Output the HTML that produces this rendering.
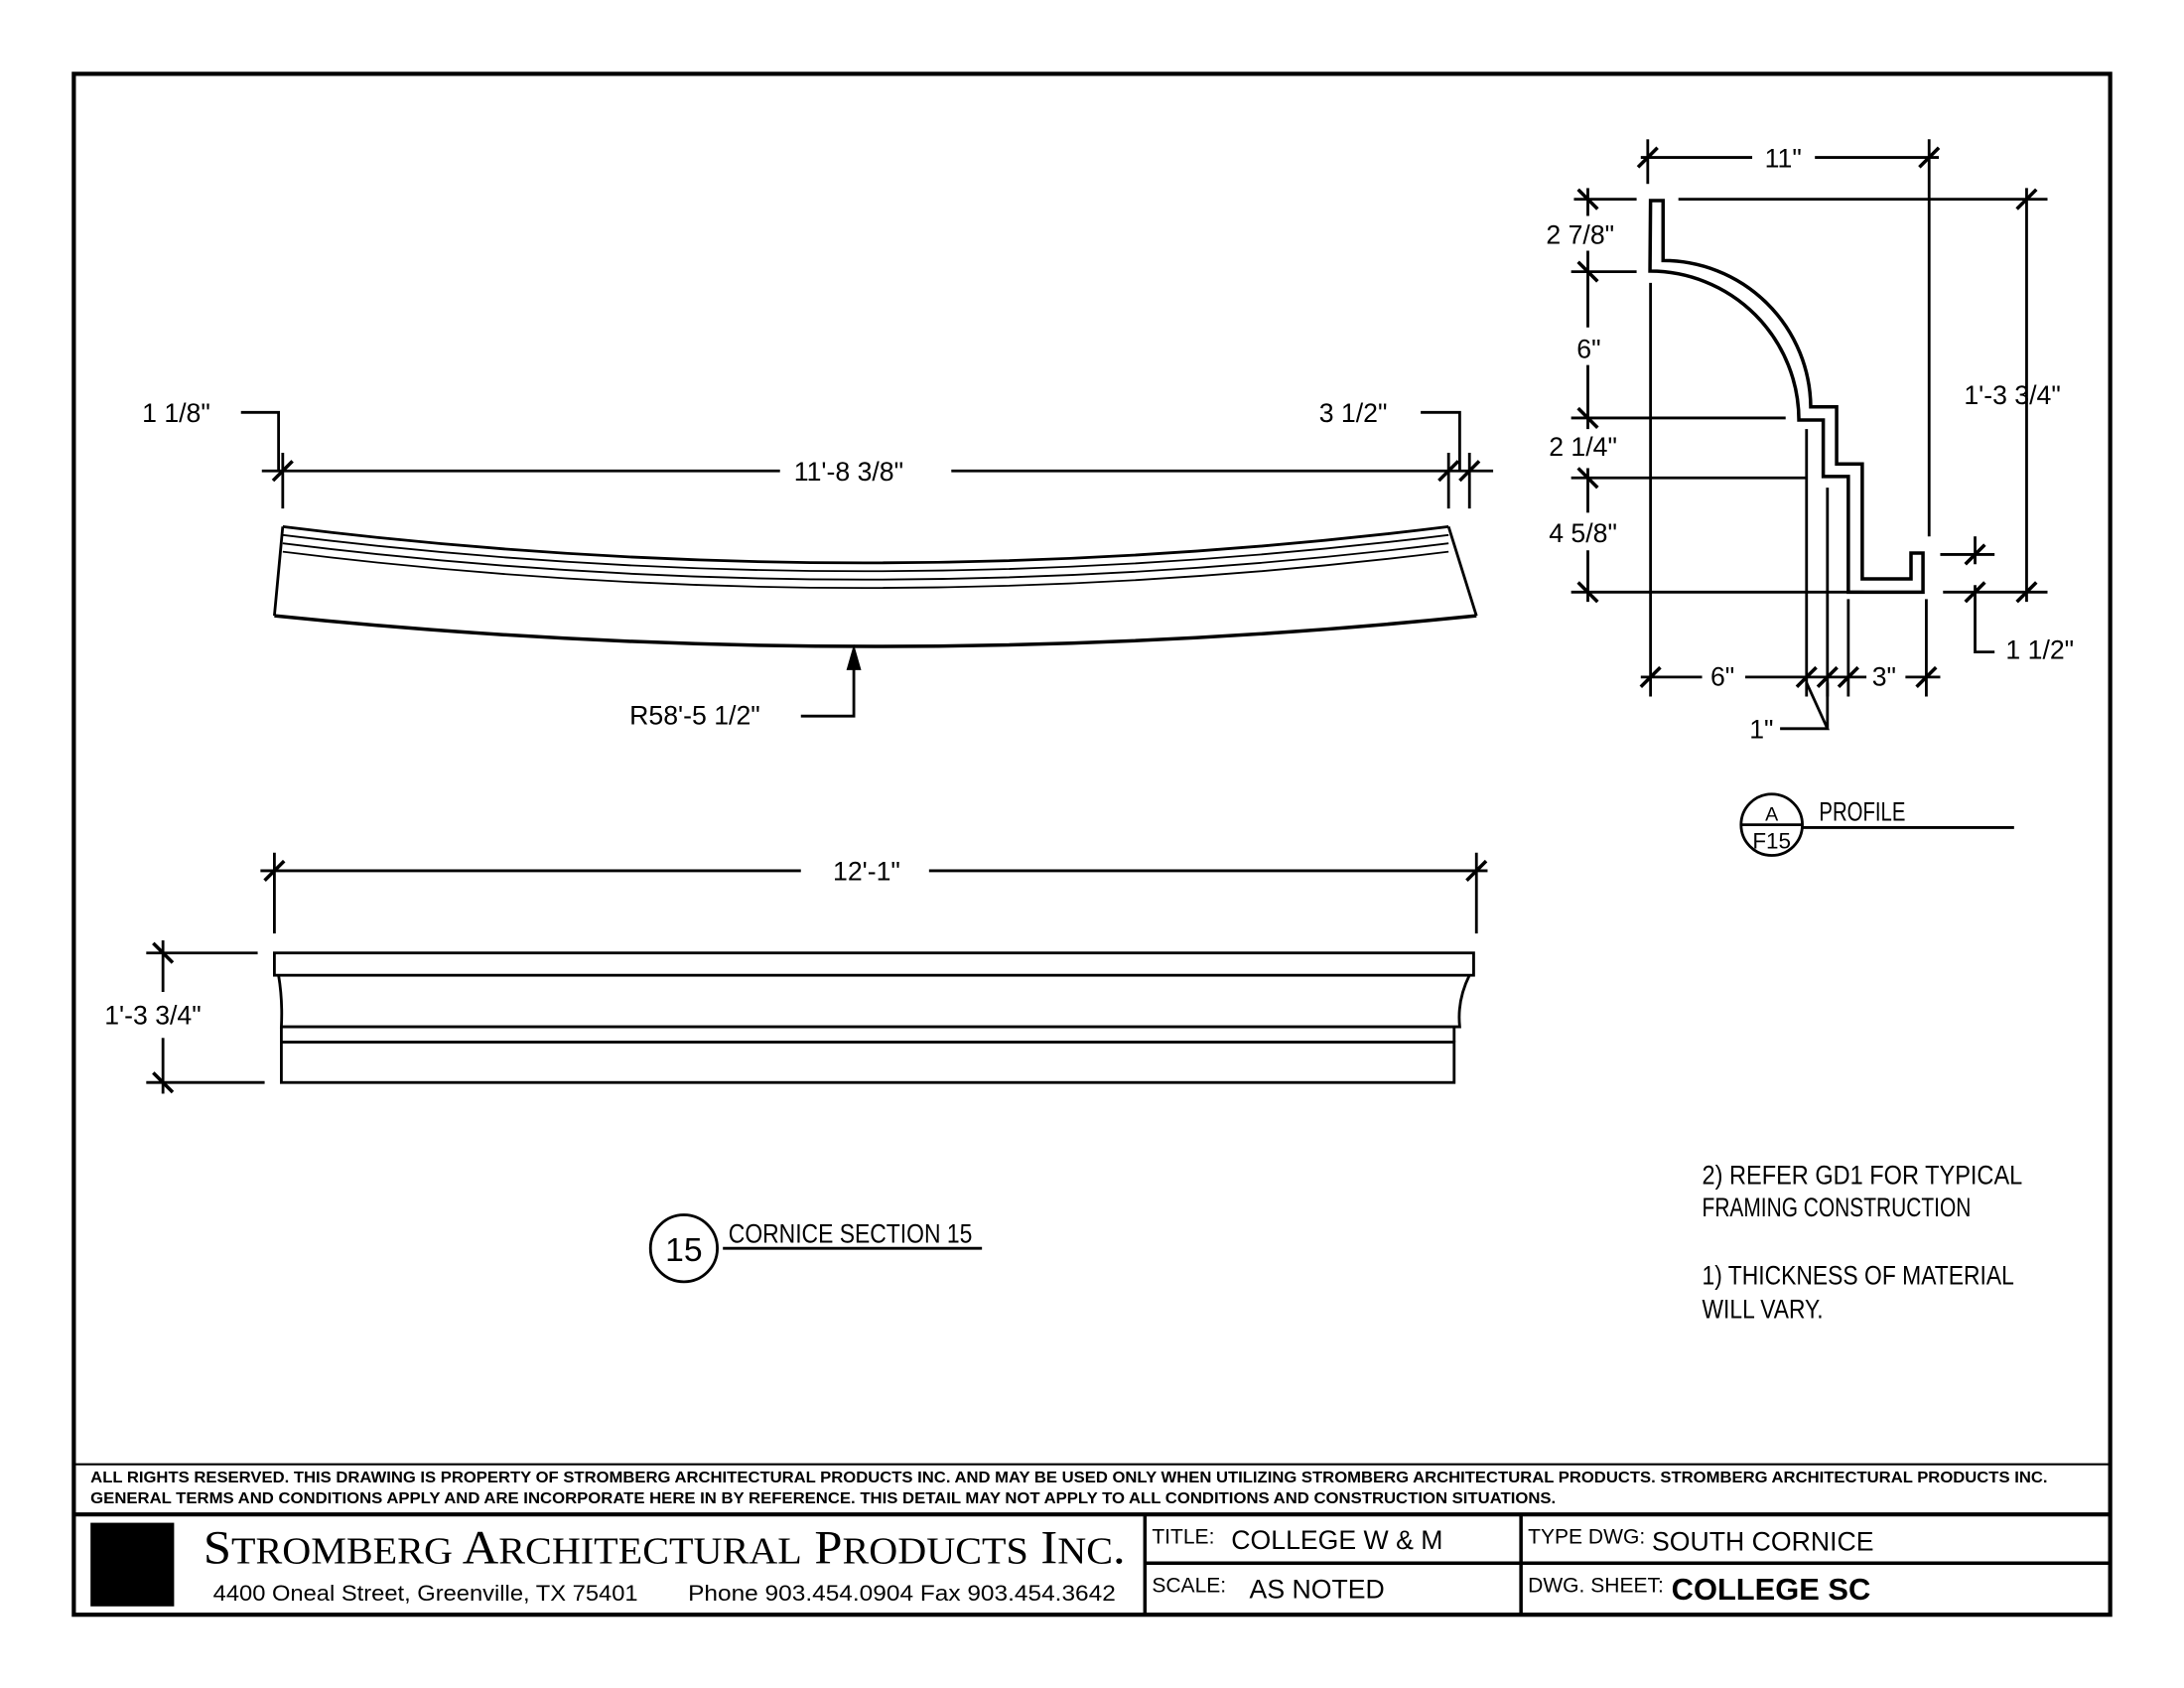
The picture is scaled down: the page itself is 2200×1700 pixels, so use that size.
<!DOCTYPE html>
<html><head><meta charset="utf-8"><style>
html,body{margin:0;padding:0;background:#fff}
svg{display:block}
text{font-family:"Liberation Sans",sans-serif;fill:#000}
.d{font-size:19px}
</style></head><body>
<svg width="2200" height="1700" viewBox="0 0 1568 1211.6" preserveAspectRatio="none" xmlns="http://www.w3.org/2000/svg">
<g fill="none" stroke="#000" stroke-width="2">
<rect x="53" y="53" width="1462" height="1106" stroke-width="3"/>
<line x1="53" y1="1051" x2="1515" y2="1051" stroke-width="1.5"/>
<line x1="53" y1="1087" x2="1515" y2="1087" stroke-width="3"/>
<line x1="822" y1="1087" x2="822" y2="1159" stroke-width="2.5"/>
<line x1="1092" y1="1087" x2="1092" y2="1159" stroke-width="2.5"/>
<line x1="822" y1="1122" x2="1515" y2="1122" stroke-width="2.5"/>

<!-- curved piece -->
<path d="M203,378 Q620,430 1040,378"/>
<path d="M203,384 Q620,436 1040,384" stroke-width="1.3"/>
<path d="M203,390 Q620,442 1040,390" stroke-width="1.3"/>
<path d="M203,396 Q620,448 1040,396" stroke-width="1.3"/>
<path d="M197,442 Q628,486 1060,442" stroke-width="2.5"/>
<line x1="203" y1="378" x2="197" y2="442"/>
<line x1="1040" y1="378" x2="1060" y2="442"/>
<!-- dim 11'-8 3/8 -->
<line x1="188" y1="338" x2="560" y2="338"/>
<line x1="683" y1="338" x2="1072" y2="338"/>
<line x1="203" y1="325" x2="203" y2="365"/>
<line x1="1040" y1="325" x2="1040" y2="365"/>
<line x1="1055" y1="325" x2="1055" y2="365"/>
<line x1="196" y1="345" x2="210" y2="331" stroke-width="2.5"/>
<line x1="1033" y1="345" x2="1047" y2="331" stroke-width="2.5"/>
<line x1="1048" y1="345" x2="1062" y2="331" stroke-width="2.5"/>
<polyline points="173,296 200,296 200,338"/>
<polyline points="1020,296 1048,296 1048,338"/>
<polyline points="575,514 613,514 613,472"/>
<polygon points="613,466 609,480 617,480" fill="#000"/>

<!-- elevation -->
<line x1="187" y1="625" x2="575" y2="625"/>
<line x1="667" y1="625" x2="1068" y2="625"/>
<line x1="197" y1="612" x2="197" y2="670"/>
<line x1="1060" y1="612" x2="1060" y2="670"/>
<line x1="190" y1="632" x2="204" y2="618" stroke-width="2.5"/>
<line x1="1053" y1="632" x2="1067" y2="618" stroke-width="2.5"/>
<rect x="197" y="684" width="861" height="16"/>
<path d="M200,700 Q203,718 202,737 L1048,737 Q1046,718 1055,700"/>
<line x1="202" y1="737" x2="202" y2="748"/>
<line x1="1044" y1="737" x2="1044" y2="748"/>
<rect x="202" y="748" width="842" height="29"/>
<line x1="105" y1="684" x2="185" y2="684"/>
<line x1="105" y1="777" x2="190" y2="777"/>
<line x1="117" y1="675" x2="117" y2="712"/>
<line x1="117" y1="745" x2="117" y2="785"/>
<line x1="110" y1="677" x2="124" y2="691" stroke-width="2.5"/>
<line x1="110" y1="770" x2="124" y2="784" stroke-width="2.5"/>
<circle cx="491" cy="896" r="24"/>
<line x1="519" y1="896" x2="705" y2="896"/>

<!-- profile -->
<path d="M1185,144 H1194 V187 A106,106 0 0 1 1300,292 H1318.6 V333 H1337 V415.5 H1372 V397 H1380.6 V425 H1327 V342 H1309 V301.5 H1291.5 A107,107 0 0 0 1184.6,194.6 Z" stroke-width="2.5"/>
<line x1="1183" y1="100" x2="1183" y2="132"/>
<line x1="1385" y1="100" x2="1385" y2="385"/>
<line x1="1178" y1="113" x2="1258" y2="113"/>
<line x1="1303" y1="113" x2="1392" y2="113"/>
<line x1="1176" y1="120" x2="1190" y2="106" stroke-width="2.5"/>
<line x1="1378" y1="120" x2="1392" y2="106" stroke-width="2.5"/>
<line x1="1205" y1="143" x2="1470" y2="143"/>
<line x1="1395" y1="425" x2="1470" y2="425"/>
<line x1="1455" y1="135" x2="1455" y2="432"/>
<line x1="1448" y1="150" x2="1462" y2="136" stroke-width="2.5"/>
<line x1="1448" y1="432" x2="1462" y2="418" stroke-width="2.5"/>
<line x1="1130" y1="143" x2="1175" y2="143"/>
<line x1="1128" y1="195" x2="1175" y2="195"/>
<line x1="1128" y1="300" x2="1282" y2="300"/>
<line x1="1128" y1="343" x2="1297" y2="343"/>
<line x1="1128" y1="425" x2="1338" y2="425"/>
<line x1="1140" y1="135" x2="1140" y2="155"/>
<line x1="1140" y1="180" x2="1140" y2="235"/>
<line x1="1140" y1="262" x2="1140" y2="308"/>
<line x1="1140" y1="336" x2="1140" y2="368"/>
<line x1="1140" y1="395" x2="1140" y2="432"/>
<g stroke-width="2.5">
<line x1="1133" y1="136" x2="1147" y2="150"/>
<line x1="1133" y1="188" x2="1147" y2="202"/>
<line x1="1133" y1="293" x2="1147" y2="307"/>
<line x1="1133" y1="336" x2="1147" y2="350"/>
<line x1="1133" y1="418" x2="1147" y2="432"/>
</g>
<line x1="1185" y1="203" x2="1185" y2="500"/>
<line x1="1297" y1="308" x2="1297" y2="500"/>
<line x1="1312" y1="350" x2="1312" y2="500"/>
<line x1="1327" y1="430" x2="1327" y2="500"/>
<line x1="1383" y1="430" x2="1383" y2="500"/>
<line x1="1178" y1="486" x2="1222" y2="486"/>
<line x1="1253" y1="486" x2="1340" y2="486"/>
<line x1="1368" y1="486" x2="1393" y2="486"/>
<g stroke-width="2.5">
<line x1="1178" y1="493" x2="1192" y2="479"/>
<line x1="1290" y1="493" x2="1304" y2="479"/>
<line x1="1305" y1="493" x2="1319" y2="479"/>
<line x1="1320" y1="493" x2="1334" y2="479"/>
<line x1="1376" y1="493" x2="1390" y2="479"/>
</g>
<polyline points="1278,523 1312,523 1297,490"/>
<line x1="1312" y1="523" x2="1312" y2="490"/>
<line x1="1393" y1="398" x2="1432" y2="398"/>
<line x1="1418" y1="385" x2="1418" y2="405"/>
<line x1="1411" y1="405" x2="1425" y2="391" stroke-width="2.5"/>
<line x1="1411" y1="432" x2="1425" y2="418" stroke-width="2.5"/>
<polyline points="1418,420 1418,468 1432,468"/>
<circle cx="1272" cy="592" r="22"/>
<line x1="1250" y1="592" x2="1294" y2="592"/>
<line x1="1294" y1="594" x2="1446" y2="594"/>
</g>

<g class="d">
<text x="102" y="303">1 1/8"</text>
<text x="947" y="303">3 1/2"</text>
<text x="570" y="345">11'-8 3/8"</text>
<text x="452" y="520">R58'-5 1/2"</text>
<text x="598" y="632">12'-1"</text>
<text x="75" y="735">1'-3 3/4"</text>
<text x="1267" y="120">11"</text>
<text x="1110" y="175">2 7/8"</text>
<text x="1132" y="257">6"</text>
<text x="1112" y="327">2 1/4"</text>
<text x="1112" y="389">4 5/8"</text>
<text x="1410" y="290">1'-3 3/4"</text>
<text x="1228" y="492">6"</text>
<text x="1344" y="492">3"</text>
<text x="1256" y="530">1"</text>
<text x="1440" y="473">1 1/2"</text>
</g>
<text x="491" y="905" font-size="24" text-anchor="middle">15</text>
<text x="523" y="892" font-size="19" textLength="175" lengthAdjust="spacingAndGlyphs">CORNICE SECTION 15</text>
<text x="1272" y="589" font-size="14" text-anchor="middle">A</text>
<text x="1272" y="609" font-size="16" text-anchor="middle">F15</text>
<text x="1306" y="589" font-size="19" textLength="62" lengthAdjust="spacingAndGlyphs">PROFILE</text>
<g font-size="19">
<text x="1222" y="850" textLength="230" lengthAdjust="spacingAndGlyphs">2) REFER GD1 FOR TYPICAL</text>
<text x="1222" y="873" textLength="193" lengthAdjust="spacingAndGlyphs">FRAMING CONSTRUCTION</text>
<text x="1222" y="922" textLength="224" lengthAdjust="spacingAndGlyphs">1) THICKNESS OF MATERIAL</text>
<text x="1222" y="946" textLength="87" lengthAdjust="spacingAndGlyphs">WILL VARY.</text>
</g>
<g font-size="11" font-weight="bold">
<text x="65" y="1064" textLength="1405" lengthAdjust="spacingAndGlyphs">ALL RIGHTS RESERVED. THIS DRAWING IS PROPERTY OF STROMBERG ARCHITECTURAL PRODUCTS INC. AND MAY BE USED ONLY WHEN UTILIZING STROMBERG ARCHITECTURAL PRODUCTS.  STROMBERG ARCHITECTURAL PRODUCTS INC.</text>
<text x="65" y="1079" textLength="1052" lengthAdjust="spacingAndGlyphs">GENERAL TERMS AND CONDITIONS APPLY AND ARE INCORPORATE HERE IN BY REFERENCE.  THIS DETAIL MAY NOT APPLY TO ALL CONDITIONS AND CONSTRUCTION SITUATIONS.</text>
</g>
<rect x="65" y="1093" width="60" height="60" fill="#000"/>
<text x="146" y="1122" font-size="34" style="font-family:'Liberation Serif',serif" textLength="662" lengthAdjust="spacingAndGlyphs">S<tspan font-size="27">TROMBERG</tspan> A<tspan font-size="27">RCHITECTURAL</tspan> P<tspan font-size="27">RODUCTS</tspan> I<tspan font-size="27">NC</tspan>.</text>
<text x="153" y="1149" font-size="16" textLength="305" lengthAdjust="spacingAndGlyphs">4400 Oneal Street, Greenville, TX  75401</text>
<text x="494" y="1149" font-size="16" textLength="307" lengthAdjust="spacingAndGlyphs">Phone 903.454.0904   Fax 903.454.3642</text>
<text x="827" y="1108" font-size="15">TITLE:</text>
<text x="884" y="1112" font-size="19">COLLEGE W &amp; M</text>
<text x="827" y="1143" font-size="15">SCALE:</text>
<text x="897" y="1147" font-size="19">AS NOTED</text>
<text x="1097" y="1108" font-size="15">TYPE DWG:</text>
<text x="1186" y="1113" font-size="19">SOUTH CORNICE</text>
<text x="1097" y="1143" font-size="15">DWG. SHEET:</text>
<text x="1200" y="1148" font-size="22" font-weight="bold">COLLEGE SC</text>
</svg>
</body></html>
